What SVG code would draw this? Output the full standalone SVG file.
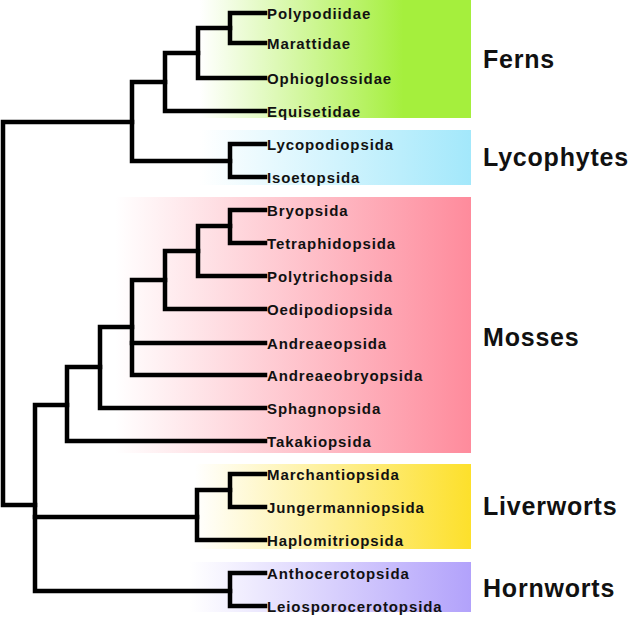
<svg xmlns="http://www.w3.org/2000/svg" width="631" height="617" viewBox="0 0 631 617">
<style>
.leaf{font-family:"Liberation Sans",Arial,sans-serif;font-weight:bold;font-size:15px;letter-spacing:0.9px;fill:#111}
.grp{font-family:"Liberation Sans",Arial,sans-serif;font-weight:bold;font-size:25px;letter-spacing:0.8px;fill:#111}
.edge{fill:none;stroke:#000;stroke-width:4.5;stroke-linejoin:miter;stroke-linecap:square}
</style>
<defs>
<linearGradient id="gF" x1="0" x2="1" y1="0" y2="0"><stop offset="0" stop-color="#fff"/><stop offset="0.75" stop-color="#a5ef3d"/><stop offset="1" stop-color="#a5ef3d"/></linearGradient>
<linearGradient id="gL" x1="0" x2="1" y1="0" y2="0"><stop offset="0" stop-color="#fff"/><stop offset="1" stop-color="#a3e8fb"/></linearGradient>
<linearGradient id="gM" x1="0" x2="1" y1="0" y2="0"><stop offset="0" stop-color="#fff"/><stop offset="1" stop-color="#fe8b9c"/></linearGradient>
<linearGradient id="gW" x1="0" x2="1" y1="0" y2="0"><stop offset="0" stop-color="#fff"/><stop offset="1" stop-color="#fde02b"/></linearGradient>
<linearGradient id="gH" x1="0" x2="1" y1="0" y2="0"><stop offset="0" stop-color="#fff"/><stop offset="1" stop-color="#b2a2fb"/></linearGradient>
</defs>
<rect width="631" height="617" fill="#fff"/>
<g id="ferns">
<rect x="200" y="0" width="271" height="118" fill="url(#gF)"/>
<text class="grp" x="483" y="68">Ferns</text>
</g>
<g id="lycophytes">
<rect x="200" y="130" width="271" height="55" fill="url(#gL)"/>
<text class="grp" x="483" y="166">Lycophytes</text>
</g>
<g id="mosses">
<rect x="115" y="197" width="356" height="256" fill="url(#gM)"/>
<text class="grp" x="483" y="346">Mosses</text>
</g>
<g id="liverworts">
<rect x="195" y="464" width="276" height="85" fill="url(#gW)"/>
<text class="grp" x="483" y="515">Liverworts</text>
</g>
<g id="hornworts">
<rect x="190" y="562" width="281" height="50" fill="url(#gH)"/>
<text class="grp" x="483" y="597">Hornworts</text>
</g>
<g id="connectors" class="edge">
<path class="edge" d="M265,13 H230 V43 H265"/>
<path class="edge" d="M230,28 H198 V78 H265"/>
<path class="edge" d="M198,53 H165 V111 H265"/>
<path class="edge" d="M165,82 H132 V161 H230"/>
<path class="edge" d="M265,144 H230 V177 H265"/>
<path class="edge" d="M132,122 H3 V505 H35"/>
<path class="edge" d="M265,210 H230 V243 H265"/>
<path class="edge" d="M230,226 H198 V276 H265"/>
<path class="edge" d="M198,251 H165 V309 H265"/>
<path class="edge" d="M165,280 H132 V375 H265"/>
<path class="edge" d="M132,343 H265"/>
<path class="edge" d="M132,327 H100 V408 H265"/>
<path class="edge" d="M100,367 H67 V441 H265"/>
<path class="edge" d="M67,405 H35 V591 H230"/>
<path class="edge" d="M35,517 H197"/>
<path class="edge" d="M265,474 H230 V507 H265"/>
<path class="edge" d="M230,490 H197 V540 H265"/>
<path class="edge" d="M265,573 H230 V606 H265"/>
</g>
<g id="leaves">
<g id="n-polypodiidae"><text class="leaf" x="267" y="18.5">Polypodiidae</text></g>
<g id="n-marattidae"><text class="leaf" x="267" y="48.5">Marattidae</text></g>
<g id="n-ophioglossidae"><text class="leaf" x="267" y="83.5">Ophioglossidae</text></g>
<g id="n-equisetidae"><text class="leaf" x="267" y="116.5">Equisetidae</text></g>
<g id="n-lycopodiopsida"><text class="leaf" x="267" y="149.5">Lycopodiopsida</text></g>
<g id="n-isoetopsida"><text class="leaf" x="267" y="182.5">Isoetopsida</text></g>
<g id="n-bryopsida"><text class="leaf" x="267" y="215.5">Bryopsida</text></g>
<g id="n-tetraphidopsida"><text class="leaf" x="267" y="248.5">Tetraphidopsida</text></g>
<g id="n-polytrichopsida"><text class="leaf" x="267" y="281.5">Polytrichopsida</text></g>
<g id="n-oedipodiopsida"><text class="leaf" x="267" y="314.5">Oedipodiopsida</text></g>
<g id="n-andreaeopsida"><text class="leaf" x="267" y="348.5">Andreaeopsida</text></g>
<g id="n-andreaeobryopsida"><text class="leaf" x="267" y="380.5">Andreaeobryopsida</text></g>
<g id="n-sphagnopsida"><text class="leaf" x="267" y="413.5">Sphagnopsida</text></g>
<g id="n-takakiopsida"><text class="leaf" x="267" y="446.5">Takakiopsida</text></g>
<g id="n-marchantiopsida"><text class="leaf" x="267" y="479.5">Marchantiopsida</text></g>
<g id="n-jungermanniopsida"><text class="leaf" x="267" y="512.5">Jungermanniopsida</text></g>
<g id="n-haplomitriopsida"><text class="leaf" x="267" y="545.5">Haplomitriopsida</text></g>
<g id="n-anthocerotopsida"><text class="leaf" x="267" y="578.5">Anthocerotopsida</text></g>
<g id="n-leiosporocerotopsida"><text class="leaf" x="267" y="611.5">Leiosporocerotopsida</text></g>
</g>
</svg>
